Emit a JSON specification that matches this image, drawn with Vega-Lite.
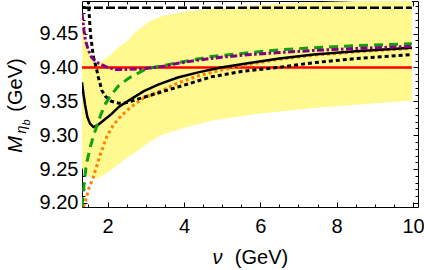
{
  "$schema": "https://vega.github.io/schema/vega-lite/v6.json",
  "width": 336,
  "height": 206,
  "autosize": {"type": "none"},
  "padding": {"left": 82, "top": 1, "right": 6, "bottom": 63},
  "background": "white",
  "config": {
    "view": {"stroke": "#000", "strokeWidth": 1},
    "axis": {"domain": false, "grid": false, "tickColor": "#000", "tickWidth": 1, "labelFont": "Liberation Sans", "labelFontSize": 20, "labelColor": "#000", "titleFont": "Liberation Sans", "titleFontSize": 20, "titleColor": "#000", "titleFontWeight": "normal"}
  },
  "datasets": {
    "band": [
      {"v": 1.33, "lo": 9.252, "hi": 9.482},
      {"v": 1.38, "lo": 9.246, "hi": 9.457},
      {"v": 1.42, "lo": 9.244, "hi": 9.442},
      {"v": 1.5, "lo": 9.24, "hi": 9.427},
      {"v": 1.58, "lo": 9.238, "hi": 9.416},
      {"v": 1.68, "lo": 9.236, "hi": 9.408},
      {"v": 1.76, "lo": 9.237, "hi": 9.405},
      {"v": 2.0, "lo": 9.245, "hi": 9.415},
      {"v": 2.3, "lo": 9.258, "hi": 9.43},
      {"v": 2.55, "lo": 9.268, "hi": 9.44},
      {"v": 2.68, "lo": 9.273, "hi": 9.45},
      {"v": 3.1, "lo": 9.29, "hi": 9.468},
      {"v": 3.4, "lo": 9.3, "hi": 9.475},
      {"v": 4.0, "lo": 9.311, "hi": 9.482},
      {"v": 4.76, "lo": 9.322, "hi": 9.487},
      {"v": 6.0, "lo": 9.332, "hi": 9.492},
      {"v": 7.4, "lo": 9.34, "hi": 9.496},
      {"v": 8.5, "lo": 9.345, "hi": 9.498},
      {"v": 9.97, "lo": 9.351, "hi": 9.5}
    ],
    "red": [
      {"v": 1.33, "m": 9.4},
      {"v": 9.97, "m": 9.4}
    ],
    "topdash": [
      {"v": 1.33, "m": 9.488},
      {"v": 9.97, "m": 9.488}
    ],
    "orange": [
      {"v": 1.37, "m": 9.194},
      {"v": 1.41, "m": 9.2},
      {"v": 1.5, "m": 9.22},
      {"v": 1.62, "m": 9.237},
      {"v": 1.8, "m": 9.27},
      {"v": 1.98, "m": 9.298},
      {"v": 2.15, "m": 9.315},
      {"v": 2.35, "m": 9.328},
      {"v": 2.6, "m": 9.341},
      {"v": 2.95, "m": 9.355},
      {"v": 3.5, "m": 9.368},
      {"v": 3.84, "m": 9.377},
      {"v": 4.4, "m": 9.388},
      {"v": 4.97, "m": 9.396},
      {"v": 5.76, "m": 9.405},
      {"v": 6.5, "m": 9.412},
      {"v": 7.4, "m": 9.418},
      {"v": 8.5, "m": 9.423},
      {"v": 9.97, "m": 9.428}
    ],
    "solid": [
      {"v": 1.33, "m": 9.378},
      {"v": 1.37, "m": 9.36},
      {"v": 1.41, "m": 9.345},
      {"v": 1.47, "m": 9.327},
      {"v": 1.54, "m": 9.317},
      {"v": 1.63, "m": 9.312},
      {"v": 1.75, "m": 9.315},
      {"v": 1.9, "m": 9.322},
      {"v": 2.1, "m": 9.331},
      {"v": 2.3, "m": 9.342},
      {"v": 2.55, "m": 9.351},
      {"v": 2.95, "m": 9.365},
      {"v": 3.34, "m": 9.375},
      {"v": 3.84, "m": 9.385},
      {"v": 4.4, "m": 9.393},
      {"v": 4.97, "m": 9.4},
      {"v": 5.76, "m": 9.407},
      {"v": 6.5, "m": 9.413},
      {"v": 7.4, "m": 9.419},
      {"v": 8.5, "m": 9.424},
      {"v": 9.97, "m": 9.429}
    ],
    "dotted": [
      {"v": 1.47, "m": 9.52},
      {"v": 1.5, "m": 9.495},
      {"v": 1.55, "m": 9.45},
      {"v": 1.63, "m": 9.415},
      {"v": 1.71, "m": 9.398},
      {"v": 1.76, "m": 9.385},
      {"v": 1.85, "m": 9.366},
      {"v": 1.95, "m": 9.357},
      {"v": 2.1, "m": 9.35},
      {"v": 2.3, "m": 9.347},
      {"v": 2.5, "m": 9.348},
      {"v": 2.95, "m": 9.356},
      {"v": 3.84, "m": 9.371},
      {"v": 4.71, "m": 9.386},
      {"v": 5.5, "m": 9.394},
      {"v": 6.47, "m": 9.4},
      {"v": 7.4, "m": 9.407},
      {"v": 8.5, "m": 9.413},
      {"v": 9.97, "m": 9.419}
    ],
    "green": [
      {"v": 1.33, "m": 9.195},
      {"v": 1.38, "m": 9.225},
      {"v": 1.44, "m": 9.256},
      {"v": 1.55, "m": 9.283},
      {"v": 1.62, "m": 9.297},
      {"v": 1.71, "m": 9.312},
      {"v": 1.82, "m": 9.33},
      {"v": 1.95, "m": 9.347},
      {"v": 2.1, "m": 9.36},
      {"v": 2.29, "m": 9.373},
      {"v": 2.55, "m": 9.384},
      {"v": 2.95, "m": 9.396},
      {"v": 3.21, "m": 9.4},
      {"v": 3.84, "m": 9.407},
      {"v": 4.71, "m": 9.416},
      {"v": 5.76, "m": 9.422},
      {"v": 6.5, "m": 9.426},
      {"v": 7.4, "m": 9.429},
      {"v": 8.5, "m": 9.432},
      {"v": 9.97, "m": 9.435}
    ],
    "purple": [
      {"v": 1.33, "m": 9.48},
      {"v": 1.38, "m": 9.455},
      {"v": 1.42, "m": 9.44},
      {"v": 1.5, "m": 9.425},
      {"v": 1.58, "m": 9.415},
      {"v": 1.7, "m": 9.408},
      {"v": 1.84, "m": 9.404},
      {"v": 2.0, "m": 9.4},
      {"v": 2.2, "m": 9.397},
      {"v": 2.5, "m": 9.397},
      {"v": 2.95, "m": 9.398},
      {"v": 3.5, "m": 9.402},
      {"v": 3.84, "m": 9.406},
      {"v": 4.4, "m": 9.411},
      {"v": 4.97, "m": 9.415},
      {"v": 5.76, "m": 9.419},
      {"v": 6.5, "m": 9.422},
      {"v": 7.4, "m": 9.425},
      {"v": 8.5, "m": 9.428},
      {"v": 9.97, "m": 9.431}
    ]
  },
  "resolve": {"axis": {"x": "independent", "y": "independent"}},
  "layer": [
    {
      "data": {"name": "band"},
      "mark": {"type": "area", "color": "#FFF98F", "clip": true},
      "encoding": {
        "x": {"field": "v", "type": "quantitative", "scale": {"domain": [1.33, 10.13], "nice": false, "zero": false},
          "axis": {"orient": "bottom", "values": [2, 4, 6, 8, 10], "tickSize": -5, "labelPadding": 14.5, "title": "(GeV)", "titleX": 179, "titleY": 56, "titleAlign": "center", "titleBaseline": "alphabetic"}},
        "y": {"field": "lo", "type": "quantitative", "scale": {"domain": [9.194, 9.498], "nice": false, "zero": false},
          "axis": {"orient": "left", "values": [9.2, 9.25, 9.3, 9.35, 9.4, 9.45], "format": ".2f", "tickSize": -5, "labelPadding": 9, "title": "(GeV)", "titleX": -60.5, "titleY": 83.5, "titleAngle": 270, "titleAlign": "center", "titleBaseline": "alphabetic"}},
        "y2": {"field": "hi"}
      }
    },
    {
      "data": {"name": "red"},
      "mark": {"type": "line", "color": "#FF0000", "strokeWidth": 2.5, "clip": true},
      "encoding": {
        "x": {"field": "v", "type": "quantitative", "scale": {"domain": [1.33, 10.13], "nice": false, "zero": false},
          "axis": {"orient": "bottom", "values": [1.5, 2.5, 3, 3.5, 4.5, 5, 5.5, 6.5, 7, 7.5, 8.5, 9, 9.5], "tickSize": -3, "labels": false, "title": "ν", "titleFontStyle": "italic", "titleX": 135, "titleY": 56, "titleAlign": "center", "titleBaseline": "alphabetic"}},
        "y": {"field": "m", "type": "quantitative", "scale": {"domain": [9.194, 9.498], "nice": false, "zero": false},
          "axis": {"orient": "left", "values": [9.21, 9.22, 9.23, 9.24, 9.26, 9.27, 9.28, 9.29, 9.31, 9.32, 9.33, 9.34, 9.36, 9.37, 9.38, 9.39, 9.41, 9.42, 9.43, 9.44, 9.46, 9.47, 9.48, 9.49], "tickSize": -3, "labels": false, "title": "M", "titleFontStyle": "italic", "titleX": -60.5, "titleY": 143, "titleAngle": 270, "titleAlign": "center", "titleBaseline": "alphabetic"}}
      }
    },
    {
      "data": {"name": "orange"},
      "mark": {"type": "line", "color": "#FF8000", "strokeWidth": 3, "strokeDash": [3, 3], "clip": true},
      "encoding": {
        "x": {"field": "v", "type": "quantitative", "scale": {"domain": [1.33, 10.13], "nice": false, "zero": false},
          "axis": {"orient": "top", "values": [2, 4, 6, 8, 10], "tickSize": -5, "labels": false, "title": null}},
        "y": {"field": "m", "type": "quantitative", "scale": {"domain": [9.194, 9.498], "nice": false, "zero": false},
          "axis": {"orient": "right", "values": [9.2, 9.25, 9.3, 9.35, 9.4, 9.45], "tickSize": -5, "labels": false, "title": "η", "titleFontSize": 14, "titleFontStyle": "italic", "titleX": -393, "titleY": 128, "titleAngle": 270, "titleAlign": "center", "titleBaseline": "alphabetic"}}
      }
    },
    {
      "data": {"name": "solid"},
      "mark": {"type": "line", "color": "#000000", "strokeWidth": 2.5, "clip": true},
      "encoding": {
        "x": {"field": "v", "type": "quantitative", "scale": {"domain": [1.33, 10.13], "nice": false, "zero": false},
          "axis": {"orient": "top", "values": [1.5, 2.5, 3, 3.5, 4.5, 5, 5.5, 6.5, 7, 7.5, 8.5, 9, 9.5], "tickSize": -3, "labels": false, "title": null}},
        "y": {"field": "m", "type": "quantitative", "scale": {"domain": [9.194, 9.498], "nice": false, "zero": false},
          "axis": {"orient": "right", "values": [9.21, 9.22, 9.23, 9.24, 9.26, 9.27, 9.28, 9.29, 9.31, 9.32, 9.33, 9.34, 9.36, 9.37, 9.38, 9.39, 9.41, 9.42, 9.43, 9.44, 9.46, 9.47, 9.48, 9.49], "tickSize": -3, "labels": false, "title": "b", "titleFontSize": 11, "titleFontStyle": "italic", "titleX": -389, "titleY": 121, "titleAngle": 270, "titleAlign": "center", "titleBaseline": "alphabetic"}}
      }
    },
    {
      "data": {"name": "dotted"},
      "mark": {"type": "line", "color": "#000000", "strokeWidth": 3, "strokeDash": [4, 3], "clip": true},
      "encoding": {
        "x": {"field": "v", "type": "quantitative", "scale": {"domain": [1.33, 10.13], "nice": false, "zero": false}, "axis": null},
        "y": {"field": "m", "type": "quantitative", "scale": {"domain": [9.194, 9.498], "nice": false, "zero": false}, "axis": null}
      }
    },
    {
      "data": {"name": "green"},
      "mark": {"type": "line", "color": "#10A010", "strokeWidth": 3, "strokeDash": [9, 6], "clip": true},
      "encoding": {
        "x": {"field": "v", "type": "quantitative", "scale": {"domain": [1.33, 10.13], "nice": false, "zero": false}, "axis": null},
        "y": {"field": "m", "type": "quantitative", "scale": {"domain": [9.194, 9.498], "nice": false, "zero": false}, "axis": null}
      }
    },
    {
      "data": {"name": "purple"},
      "mark": {"type": "line", "color": "#800080", "strokeWidth": 3, "strokeDash": [7, 2.5, 2.5, 2.5], "clip": true},
      "encoding": {
        "x": {"field": "v", "type": "quantitative", "scale": {"domain": [1.33, 10.13], "nice": false, "zero": false}, "axis": null},
        "y": {"field": "m", "type": "quantitative", "scale": {"domain": [9.194, 9.498], "nice": false, "zero": false}, "axis": null}
      }
    },
    {
      "data": {"name": "topdash"},
      "mark": {"type": "line", "color": "#000000", "strokeWidth": 2.5, "strokeDash": [9, 3], "clip": true},
      "encoding": {
        "x": {"field": "v", "type": "quantitative", "scale": {"domain": [1.33, 10.13], "nice": false, "zero": false}, "axis": null},
        "y": {"field": "m", "type": "quantitative", "scale": {"domain": [9.194, 9.498], "nice": false, "zero": false}, "axis": null}
      }
    }
  ]
}
